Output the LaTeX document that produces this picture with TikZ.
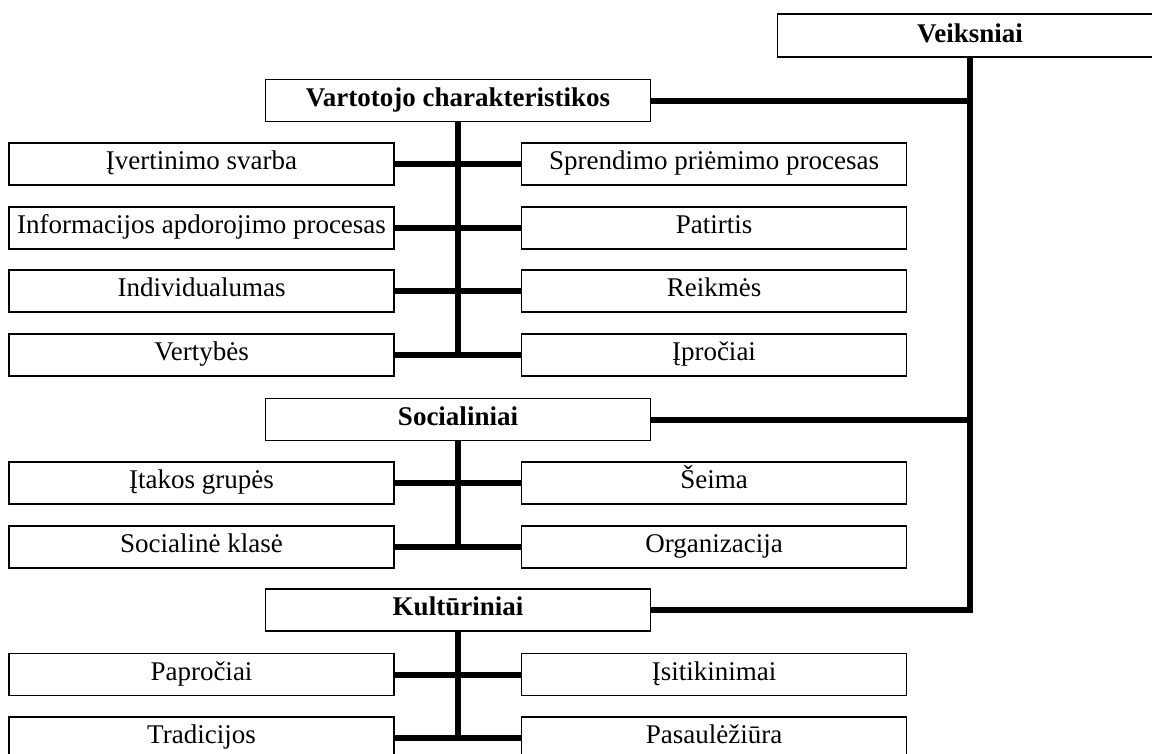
\documentclass[tikz,border=0pt]{standalone}
\usepackage{fontspec}
\setmainfont{Liberation Serif}
\begin{document}
\begin{tikzpicture}[x=1pt,y=-1pt,
  box/.style={draw, line width=1.8pt, fill=white, minimum width=385pt,
    minimum height=42pt, inner sep=0pt, text height=20pt, text depth=9pt,
    font=\fontsize{27}{31}\selectfont},
  head/.style={box, font=\fontsize{27}{31}\selectfont\bfseries},
  link/.style={line width=6pt, line join=miter}]
\useasboundingbox (0,0) rectangle (1152,753);
\clip (0,0) rectangle (1152,753);

% top level
\node[head, minimum height=43pt, text height=21pt, text depth=8pt] (veik) at (970,35.5) {Veiksniai};

% consumer characteristics
\node[head] (vart) at (458,100.5) {Vartotojo charakteristikos};
\node[box] (a1) at (201.5,164) {Įvertinimo svarba};
\node[box] (b1) at (714,164) {Sprendimo priėmimo procesas};
\node[box] (a2) at (201.5,228) {Informacijos apdorojimo procesas};
\node[box] (b2) at (714,228) {Patirtis};
\node[box] (a3) at (201.5,291) {Individualumas};
\node[box] (b3) at (714,291) {Reikmės};
\node[box] (a4) at (201.5,355) {Vertybės};
\node[box] (b4) at (714,355) {Įpročiai};

% social
\node[head] (soc) at (458,419.5) {Socialiniai};
\node[box] (a5) at (201.5,483) {Įtakos grupės};
\node[box] (b5) at (714,483) {Šeima};
\node[box] (a6) at (201.5,547) {Socialinė klasė};
\node[box] (b6) at (714,547) {Organizacija};

% cultural
\node[head] (kult) at (458,610) {Kultūriniai};
\node[box] (a7) at (201.5,674.5) {Papročiai};
\node[box] (b7) at (714,674.5) {Įsitikinimai};
\node[box] (a8) at (201.5,738) {Tradicijos};
\node[box] (b8) at (714,738) {Pasaulėžiūra};

% main branch on the right
\draw[link] (veik.south) |- (kult.east);
\draw[link] (vart.east) -- (vart.east -| veik.south);
\draw[link] (soc.east) -- (soc.east -| veik.south);

% group trunks
\draw[link] (vart.south) -- (vart.south |- a4.east);
\draw[link] (soc.south) -- (soc.south |- a6.east);
\draw[link] (kult.south) -- (kult.south |- a8.east);

% rungs
\foreach \i in {1,...,8}
  \draw[link] (a\i.east) -- (b\i.west);
\end{tikzpicture}
\end{document}
